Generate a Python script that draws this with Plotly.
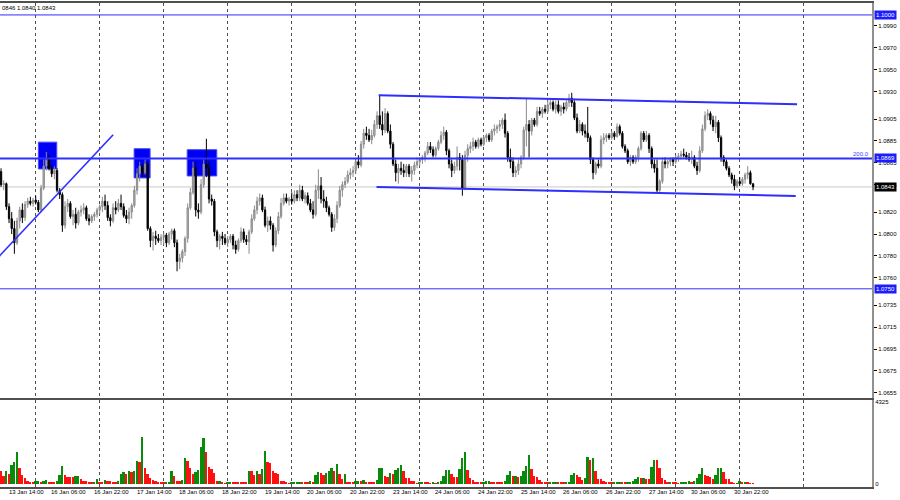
import plotly.graph_objects as go

# ---------------- data (H1 bars, bar 0 = 13 Jan 14:00) ----------------
bar_index = list(range(-1, 282))

open_ = [
    1.0857, 1.0845, 1.0846, 1.0825, 1.0814, 1.0805, 1.0792, 1.0812, 1.0822, 1.0815,
    1.0827, 1.0830, 1.0828, 1.0831, 1.0829, 1.0822, 1.0842, 1.0862, 1.0868, 1.0860,
    1.0855, 1.0858, 1.0840, 1.0836, 1.0808, 1.0825, 1.0828, 1.0816, 1.0818, 1.0810,
    1.0820, 1.0822, 1.0824, 1.0814, 1.0812, 1.0816, 1.0818, 1.0822, 1.0825, 1.0830,
    1.0826, 1.0815, 1.0812, 1.0824, 1.0822, 1.0828, 1.0825, 1.0817, 1.0814, 1.0820,
    1.0826, 1.0840, 1.0855, 1.0862, 1.0856, 1.0864, 1.0805, 1.0794, 1.0798, 1.0796,
    1.0794, 1.0797, 1.0799, 1.0792, 1.0800, 1.0803, 1.0792, 1.0775, 1.0778, 1.0784,
    1.0796, 1.0824, 1.0838, 1.0860, 1.0822, 1.0820, 1.0845, 1.0864, 1.0860, 1.0832,
    1.0830, 1.0802, 1.0794, 1.0798, 1.0796, 1.0792, 1.0795, 1.0798, 1.0790, 1.0786,
    1.0794, 1.0802, 1.0795, 1.0793, 1.0802, 1.0814, 1.0822, 1.0830, 1.0833, 1.0822,
    1.0808, 1.0812, 1.0808, 1.0790, 1.0803, 1.0816, 1.0828, 1.0833, 1.0830, 1.0832,
    1.0830, 1.0836, 1.0833, 1.0840, 1.0832, 1.0835, 1.0828, 1.0822, 1.0818, 1.0840,
    1.0844, 1.0832, 1.0830, 1.0824, 1.0818, 1.0806, 1.0814, 1.0826, 1.0840, 1.0845,
    1.0848, 1.0854, 1.0856, 1.0858, 1.0866, 1.0863, 1.0882, 1.0892, 1.0890, 1.0886,
    1.0890, 1.0900, 1.0908, 1.0900, 1.0895, 1.0910, 1.0894, 1.0882, 1.0864, 1.0856,
    1.0860, 1.0858, 1.0856, 1.0862, 1.0855, 1.0858, 1.0863, 1.0866, 1.0868, 1.0870,
    1.0874, 1.0880, 1.0877, 1.0872, 1.0878, 1.0884, 1.0890, 1.0893, 1.0876, 1.0864,
    1.0858, 1.0862, 1.0870, 1.0868, 1.0842, 1.0872, 1.0878, 1.0880, 1.0884, 1.0880,
    1.0886, 1.0882, 1.0888, 1.0890, 1.0886, 1.0894, 1.0896, 1.0898, 1.0900, 1.0904,
    1.0892, 1.0870, 1.0866, 1.0856, 1.0858, 1.0864, 1.0870, 1.0895, 1.0900, 1.0894,
    1.0904, 1.0900, 1.0912, 1.0910, 1.0914, 1.0912, 1.0918, 1.0920, 1.0914, 1.0918,
    1.0912, 1.0916, 1.0914, 1.0920, 1.0924, 1.0920, 1.0906, 1.0894, 1.0900, 1.0894,
    1.0892, 1.0888, 1.0868, 1.0856, 1.0864, 1.0862, 1.0886, 1.0888, 1.0890, 1.0888,
    1.0892, 1.0889, 1.0898, 1.0892, 1.0880, 1.0876, 1.0866, 1.0870, 1.0866, 1.0870,
    1.0878, 1.0892, 1.0886, 1.0890, 1.0878, 1.0864, 1.0860, 1.0840, 1.0848, 1.0866,
    1.0864, 1.0866, 1.0868, 1.0866, 1.0870, 1.0871, 1.0873, 1.0872, 1.0870, 1.0868,
    1.0870, 1.0862, 1.0858, 1.0876, 1.0896, 1.0908, 1.0910, 1.0904, 1.0898, 1.0902,
    1.0888, 1.0870, 1.0866, 1.0860, 1.0854, 1.0850, 1.0844, 1.0848, 1.0846, 1.0850,
    1.0854, 1.0856, 1.0846,
]

high = [
    1.0860, 1.0849, 1.0847, 1.0828, 1.0820, 1.0812, 1.0815, 1.0825, 1.0828, 1.0830,
    1.0833, 1.0834, 1.0833, 1.0835, 1.0831, 1.0845, 1.0868, 1.0875, 1.0872, 1.0863,
    1.0862, 1.0860, 1.0842, 1.0838, 1.0830, 1.0832, 1.0830, 1.0822, 1.0824, 1.0822,
    1.0826, 1.0828, 1.0826, 1.0818, 1.0818, 1.0820, 1.0824, 1.0827, 1.0834, 1.0836,
    1.0830, 1.0818, 1.0828, 1.0830, 1.0832, 1.0836, 1.0828, 1.0822, 1.0824, 1.0828,
    1.0844, 1.0860, 1.0866, 1.0864, 1.0868, 1.0866, 1.0807, 1.0802, 1.0803, 1.0800,
    1.0800, 1.0802, 1.0801, 1.0802, 1.0805, 1.0805, 1.0795, 1.0782, 1.0786, 1.0798,
    1.0828, 1.0842, 1.0866, 1.0866, 1.0828, 1.0850, 1.0868, 1.0887, 1.0866, 1.0836,
    1.0832, 1.0804, 1.0800, 1.0802, 1.0800, 1.0798, 1.0800, 1.0800, 1.0794, 1.0796,
    1.0806, 1.0805, 1.0799, 1.0804, 1.0818, 1.0826, 1.0834, 1.0837, 1.0836, 1.0825,
    1.0816, 1.0816, 1.0810, 1.0806, 1.0820, 1.0833, 1.0837, 1.0837, 1.0834, 1.0838,
    1.0840, 1.0840, 1.0845, 1.0844, 1.0838, 1.0838, 1.0832, 1.0830, 1.0845, 1.0859,
    1.0852, 1.0840, 1.0834, 1.0826, 1.0820, 1.0818, 1.0830, 1.0844, 1.0848, 1.0852,
    1.0858, 1.0860, 1.0862, 1.0868, 1.0872, 1.0885, 1.0896, 1.0898, 1.0896, 1.0895,
    1.0904, 1.0912, 1.0927, 1.0912, 1.0915, 1.0912, 1.0900, 1.0884, 1.0868, 1.0864,
    1.0866, 1.0864, 1.0864, 1.0864, 1.0862, 1.0866, 1.0870, 1.0870, 1.0872, 1.0876,
    1.0884, 1.0884, 1.0880, 1.0880, 1.0886, 1.0894, 1.0898, 1.0895, 1.0878, 1.0868,
    1.0866, 1.0880, 1.0874, 1.0872, 1.0876, 1.0882, 1.0884, 1.0888, 1.0886, 1.0888,
    1.0888, 1.0890, 1.0892, 1.0892, 1.0896, 1.0900, 1.0900, 1.0904, 1.0906, 1.0910,
    1.0894, 1.0878, 1.0870, 1.0862, 1.0868, 1.0872, 1.0898, 1.0924, 1.0904, 1.0906,
    1.0906, 1.0916, 1.0916, 1.0916, 1.0918, 1.0922, 1.0924, 1.0922, 1.0922, 1.0922,
    1.0918, 1.0920, 1.0922, 1.0928, 1.0929, 1.0922, 1.0910, 1.0904, 1.0902, 1.0900,
    1.0916, 1.0890, 1.0870, 1.0866, 1.0868, 1.0890, 1.0892, 1.0892, 1.0892, 1.0894,
    1.0894, 1.0901, 1.0900, 1.0894, 1.0882, 1.0878, 1.0872, 1.0872, 1.0872, 1.0880,
    1.0894, 1.0894, 1.0894, 1.0892, 1.0880, 1.0868, 1.0868, 1.0850, 1.0870, 1.0870,
    1.0868, 1.0870, 1.0870, 1.0872, 1.0874, 1.0876, 1.0878, 1.0875, 1.0874, 1.0876,
    1.0872, 1.0866, 1.0880, 1.0900, 1.0912, 1.0914, 1.0912, 1.0908, 1.0908, 1.0904,
    1.0890, 1.0872, 1.0868, 1.0862, 1.0856, 1.0854, 1.0850, 1.0852, 1.0852, 1.0856,
    1.0862, 1.0858, 1.0846,
]

low = [
    1.0843, 1.0840, 1.0822, 1.0810, 1.0800, 1.0782, 1.0790, 1.0805, 1.0810, 1.0812,
    1.0824, 1.0826, 1.0825, 1.0827, 1.0820, 1.0820, 1.0840, 1.0858, 1.0858, 1.0852,
    1.0850, 1.0838, 1.0832, 1.0802, 1.0805, 1.0820, 1.0814, 1.0808, 1.0805, 1.0808,
    1.0816, 1.0818, 1.0812, 1.0808, 1.0810, 1.0812, 1.0815, 1.0818, 1.0820, 1.0822,
    1.0812, 1.0807, 1.0810, 1.0818, 1.0820, 1.0822, 1.0815, 1.0810, 1.0809, 1.0814,
    1.0824, 1.0836, 1.0848, 1.0852, 1.0854, 1.0803, 1.0788, 1.0785, 1.0790, 1.0792,
    1.0790, 1.0790, 1.0788, 1.0790, 1.0795, 1.0788, 1.0766, 1.0768, 1.0774, 1.0780,
    1.0792, 1.0822, 1.0836, 1.0816, 1.0814, 1.0818, 1.0842, 1.0852, 1.0828, 1.0826,
    1.0798, 1.0788, 1.0786, 1.0790, 1.0790, 1.0788, 1.0792, 1.0786, 1.0782, 1.0784,
    1.0792, 1.0792, 1.0790, 1.0782, 1.0800, 1.0812, 1.0818, 1.0826, 1.0820, 1.0806,
    1.0802, 1.0804, 1.0784, 1.0788, 1.0800, 1.0814, 1.0826, 1.0828, 1.0826, 1.0827,
    1.0828, 1.0830, 1.0830, 1.0830, 1.0828, 1.0826, 1.0820, 1.0814, 1.0816, 1.0832,
    1.0828, 1.0824, 1.0820, 1.0816, 1.0802, 1.0803, 1.0810, 1.0824, 1.0834, 1.0842,
    1.0846, 1.0850, 1.0852, 1.0855, 1.0860, 1.0861, 1.0878, 1.0886, 1.0884, 1.0882,
    1.0888, 1.0896, 1.0896, 1.0890, 1.0892, 1.0892, 1.0878, 1.0862, 1.0848, 1.0846,
    1.0854, 1.0852, 1.0852, 1.0852, 1.0848, 1.0854, 1.0860, 1.0862, 1.0864, 1.0866,
    1.0872, 1.0874, 1.0870, 1.0870, 1.0876, 1.0882, 1.0886, 1.0872, 1.0860, 1.0852,
    1.0855, 1.0858, 1.0858, 1.0835, 1.0840, 1.0866, 1.0874, 1.0876, 1.0878, 1.0878,
    1.0880, 1.0880, 1.0884, 1.0884, 1.0884, 1.0890, 1.0892, 1.0894, 1.0896, 1.0888,
    1.0866, 1.0860, 1.0852, 1.0852, 1.0854, 1.0860, 1.0868, 1.0880, 1.0870, 1.0890,
    1.0898, 1.0898, 1.0908, 1.0906, 1.0910, 1.0910, 1.0914, 1.0912, 1.0910, 1.0910,
    1.0908, 1.0910, 1.0912, 1.0916, 1.0916, 1.0904, 1.0892, 1.0892, 1.0890, 1.0888,
    1.0884, 1.0864, 1.0850, 1.0854, 1.0860, 1.0860, 1.0882, 1.0884, 1.0886, 1.0886,
    1.0886, 1.0888, 1.0890, 1.0878, 1.0874, 1.0864, 1.0862, 1.0864, 1.0864, 1.0866,
    1.0876, 1.0884, 1.0884, 1.0874, 1.0860, 1.0856, 1.0838, 1.0838, 1.0846, 1.0860,
    1.0860, 1.0862, 1.0862, 1.0864, 1.0866, 1.0868, 1.0870, 1.0868, 1.0866, 1.0864,
    1.0860, 1.0854, 1.0856, 1.0874, 1.0894, 1.0904, 1.0900, 1.0894, 1.0892, 1.0884,
    1.0866, 1.0862, 1.0858, 1.0852, 1.0846, 1.0840, 1.0842, 1.0844, 1.0844, 1.0846,
    1.0850, 1.0845, 1.0840,
]

close = [
    1.0845, 1.0846, 1.0825, 1.0814, 1.0805, 1.0792, 1.0812, 1.0822, 1.0815, 1.0827,
    1.0830, 1.0828, 1.0831, 1.0829, 1.0822, 1.0842, 1.0862, 1.0868, 1.0860, 1.0855,
    1.0858, 1.0840, 1.0836, 1.0808, 1.0825, 1.0828, 1.0816, 1.0818, 1.0810, 1.0820,
    1.0822, 1.0824, 1.0814, 1.0812, 1.0816, 1.0818, 1.0822, 1.0825, 1.0830, 1.0826,
    1.0815, 1.0812, 1.0824, 1.0822, 1.0828, 1.0825, 1.0817, 1.0814, 1.0820, 1.0826,
    1.0840, 1.0855, 1.0862, 1.0856, 1.0864, 1.0805, 1.0794, 1.0798, 1.0796, 1.0794,
    1.0797, 1.0799, 1.0792, 1.0800, 1.0803, 1.0792, 1.0775, 1.0778, 1.0784, 1.0796,
    1.0824, 1.0838, 1.0860, 1.0822, 1.0820, 1.0845, 1.0864, 1.0860, 1.0832, 1.0830,
    1.0802, 1.0794, 1.0798, 1.0796, 1.0792, 1.0795, 1.0798, 1.0790, 1.0786, 1.0794,
    1.0802, 1.0795, 1.0793, 1.0802, 1.0814, 1.0822, 1.0830, 1.0833, 1.0822, 1.0808,
    1.0812, 1.0808, 1.0790, 1.0803, 1.0816, 1.0828, 1.0833, 1.0830, 1.0832, 1.0830,
    1.0836, 1.0833, 1.0840, 1.0832, 1.0835, 1.0828, 1.0822, 1.0818, 1.0840, 1.0844,
    1.0832, 1.0830, 1.0824, 1.0818, 1.0806, 1.0814, 1.0826, 1.0840, 1.0845, 1.0848,
    1.0854, 1.0856, 1.0858, 1.0866, 1.0863, 1.0882, 1.0892, 1.0890, 1.0886, 1.0890,
    1.0900, 1.0908, 1.0900, 1.0895, 1.0910, 1.0894, 1.0882, 1.0864, 1.0856, 1.0860,
    1.0858, 1.0856, 1.0862, 1.0855, 1.0858, 1.0863, 1.0866, 1.0868, 1.0870, 1.0874,
    1.0880, 1.0877, 1.0872, 1.0878, 1.0884, 1.0890, 1.0893, 1.0876, 1.0864, 1.0858,
    1.0862, 1.0870, 1.0868, 1.0842, 1.0872, 1.0878, 1.0880, 1.0884, 1.0880, 1.0886,
    1.0882, 1.0888, 1.0890, 1.0886, 1.0894, 1.0896, 1.0898, 1.0900, 1.0904, 1.0892,
    1.0870, 1.0866, 1.0856, 1.0858, 1.0864, 1.0870, 1.0895, 1.0900, 1.0894, 1.0904,
    1.0900, 1.0912, 1.0910, 1.0914, 1.0912, 1.0918, 1.0920, 1.0914, 1.0918, 1.0912,
    1.0916, 1.0914, 1.0920, 1.0924, 1.0920, 1.0906, 1.0894, 1.0900, 1.0894, 1.0892,
    1.0888, 1.0868, 1.0856, 1.0864, 1.0862, 1.0886, 1.0888, 1.0890, 1.0888, 1.0892,
    1.0889, 1.0898, 1.0892, 1.0880, 1.0876, 1.0866, 1.0870, 1.0866, 1.0870, 1.0878,
    1.0892, 1.0886, 1.0890, 1.0878, 1.0864, 1.0860, 1.0840, 1.0848, 1.0866, 1.0864,
    1.0866, 1.0868, 1.0866, 1.0870, 1.0871, 1.0873, 1.0872, 1.0870, 1.0868, 1.0870,
    1.0862, 1.0858, 1.0876, 1.0896, 1.0908, 1.0910, 1.0904, 1.0898, 1.0902, 1.0888,
    1.0870, 1.0866, 1.0860, 1.0854, 1.0850, 1.0844, 1.0848, 1.0846, 1.0850, 1.0854,
    1.0856, 1.0846, 1.0843,
]

volume = [
    657, 433, 657, 536, 1003, 1142, 1695, 830, 484, 311,
    138, 87, 52, 138, 173, 87, 173, 190, 52, 52,
    52, 138, 484, 917, 484, 363, 350, 346, 398, 433,
    260, 173, 138, 87, 52, 87, 277, 87, 87, 190,
    173, 138, 87, 87, 138, 536, 605, 519, 657, 640,
    657, 1211, 1125, 2440, 830, 536, 311, 190, 138, 52,
    52, 52, 87, 104, 657, 398, 138, 130, 225, 1349,
    1176, 830, 536, 605, 744, 1955, 2387, 1695, 865, 778,
    571, 138, 173, 52, 40, 87, 104, 104, 87, 87,
    87, 87, 87, 692, 692, 484, 692, 536, 778, 1730,
    1125, 1090, 657, 571, 536, 138, 130, 52, 40, 52,
    87, 95, 104, 87, 80, 75, 173, 87, 484, 605,
    590, 484, 571, 692, 830, 657, 1038, 519, 277, 536,
    87, 80, 52, 138, 145, 130, 225, 87, 80, 80,
    75, 225, 830, 850, 398, 346, 571, 536, 744, 830,
    1003, 657, 311, 300, 138, 130, 17, 52, 60, 55,
    52, 17, 52, 50, 87, 138, 398, 709, 744, 536,
    363, 350, 778, 1349, 1695, 709, 311, 225, 87, 80,
    75, 87, 138, 140, 87, 87, 87, 87, 87, 138,
    484, 692, 433, 440, 363, 398, 692, 917, 1522, 796,
    398, 346, 190, 87, 52, 52, 87, 121, 125, 87,
    80, 52, 60, 87, 484, 571, 484, 346, 225, 311,
    1400, 1263, 1349, 657, 260, 255, 138, 87, 52, 52,
    87, 90, 95, 87, 80, 87, 90, 138, 277, 363,
    294, 300, 260, 255, 900, 1263, 1250, 830, 311, 225,
    121, 125, 87, 52, 50, 87, 90, 95, 173, 104,
    138, 311, 536, 830, 484, 398, 346, 277, 484, 830,
    840, 605, 277, 270, 87, 17, 40, 138, 52, 104,
    52, 50, 45,
]

time_label_bars = [0, 16, 32, 48, 64, 80, 96, 112, 128, 144, 160, 176, 192, 208, 224, 240, 256, 272]
time_labels = ["13 Jan 14:00", "16 Jan 06:00", "16 Jan 22:00", "17 Jan 14:00", "18 Jan 06:00",
               "18 Jan 22:00", "19 Jan 14:00", "20 Jan 06:00", "20 Jan 22:00", "23 Jan 14:00",
               "24 Jan 06:00", "24 Jan 22:00", "25 Jan 14:00", "26 Jan 06:00", "26 Jan 22:00",
               "27 Jan 14:00", "30 Jan 06:00", "30 Jan 22:00"]
grid_bars = [12, 36, 60, 84, 108, 132, 156, 180, 204, 228, 252, 276, 300]

price_ticks = [1.0990, 1.0970, 1.0950, 1.0930, 1.0905, 1.0885, 1.0865, 1.0845, 1.0820,
               1.0800, 1.0780, 1.0760, 1.0735, 1.0715, 1.0695, 1.0675, 1.0655]
volume_ticks = [0, 4325]

# drawing objects
levels = [1.1000, 1.0869, 1.0750]
level_widths = [1, 2, 1]
last_price = 1.0843
channel_upper_x = [140.6, 297.5]
channel_upper_y = [1.09266, 1.09185]
channel_lower_x = [139.8, 297.0]
channel_lower_y = [1.08430, 1.08348]
trend_x = [-5.0, 41.05]
trend_y = [1.07712, 1.08906]
rect_x0 = [13.0, 48.9, 68.8]
rect_x1 = [19.9, 54.9, 79.9]
rect_y0 = [1.08594, 1.08512, 1.08530]
rect_y1 = [1.08839, 1.08779, 1.08770]

# ---------------- figure ----------------
BLUE = "#2e2eff"
FONT = "Liberation Sans, Arial, sans-serif"
H_PLOT = 487.0  # px of paper (t=0, b=13)

vol_colors = ["#ff1010"]
for k in range(1, len(volume)):
    vol_colors.append("#0a8a0a" if volume[k] > volume[k - 1] else "#ff1010")

fig = go.Figure()

fig.add_trace(go.Candlestick(
    x=bar_index, open=open_, high=high, low=low, close=close,
    increasing=dict(line=dict(color="#8a8a8a", width=1), fillcolor="#b4b4b4"),
    decreasing=dict(line=dict(color="#000000", width=1), fillcolor="#000000"),
    whiskerwidth=0, xaxis="x", yaxis="y", showlegend=False, hoverinfo="skip",
))

fig.add_trace(go.Scatter(x=channel_upper_x, y=channel_upper_y, mode="lines",
                         line=dict(color=BLUE, width=2), xaxis="x", yaxis="y",
                         showlegend=False, hoverinfo="skip"))
fig.add_trace(go.Scatter(x=channel_lower_x, y=channel_lower_y, mode="lines",
                         line=dict(color=BLUE, width=2), xaxis="x", yaxis="y",
                         showlegend=False, hoverinfo="skip"))
fig.add_trace(go.Scatter(x=trend_x, y=trend_y, mode="lines",
                         line=dict(color=BLUE, width=1.6), xaxis="x", yaxis="y",
                         showlegend=False, hoverinfo="skip"))

fig.add_trace(go.Bar(x=bar_index, y=volume, marker=dict(color=vol_colors, line=dict(width=0)),
                     width=0.62, xaxis="x2", yaxis="y2", showlegend=False, hoverinfo="skip"))

shapes = []
for x0, x1, y0, y1 in zip(rect_x0, rect_x1, rect_y0, rect_y1):
    shapes.append(dict(type="rect", xref="x", yref="y", x0=x0, x1=x1, y0=y0, y1=y1,
                       fillcolor="#0000f4", line=dict(color="#4848ff", width=1), layer="between"))
shapes.append(dict(type="line", xref="paper", yref="y", x0=0, x1=1, y0=last_price, y1=last_price,
                   line=dict(color="#c8c8c8", width=1), layer="between"))
for lv, w in zip(levels, level_widths):
    shapes.append(dict(type="line", xref="paper", yref="y", x0=0, x1=1, y0=lv, y1=lv,
                       line=dict(color=BLUE, width=w), layer="above"))

annotations = []
for b, t in zip(time_label_bars, time_labels):
    annotations.append(dict(x=b, y=(H_PLOT - 492) / H_PLOT, xref="x2", yref="paper", text=t,
                            showarrow=False, xanchor="left", yanchor="middle", xshift=3,
                            font=dict(family=FONT, size=6, color="#000000")))
for lv, bg in [(1.1000, "#1c1cff"), (1.0869, "#1c1cff"), (1.0750, "#1c1cff"), (last_price, "#000000")]:
    annotations.append(dict(x=1, y=lv, xref="paper", yref="y", text=f"{lv:.4f}", showarrow=False,
                            xanchor="left", yanchor="middle", xshift=2, bgcolor=bg, borderpad=1,
                            font=dict(family=FONT, size=6, color="#ffffff")))
annotations.append(dict(x=1, y=1.0869, xref="paper", yref="y", text="200.0", showarrow=False,
                        xanchor="right", yanchor="bottom", xshift=-1, yshift=-1,
                        font=dict(family=FONT, size=6, color="#4444ff")))
annotations.append(dict(x=0, y=(H_PLOT - 6) / H_PLOT, xref="paper", yref="paper",
                        text="0846 1.0840 1.0843", showarrow=False, xanchor="left", yanchor="middle",
                        font=dict(family=FONT, size=6, color="#000000")))

x_range = [-1.39, 325.6]
fig.update_layout(
    width=900, height=500,
    margin=dict(l=0, r=28, t=0, b=13),
    paper_bgcolor="#ffffff", plot_bgcolor="#ffffff",
    showlegend=False, bargap=0,
    shapes=shapes, annotations=annotations,
    xaxis=dict(domain=[0, 1], range=x_range, anchor="y", showticklabels=False, ticks="",
               showgrid=False, zeroline=False, rangeslider=dict(visible=False),
               showline=True, linecolor="#505050", linewidth=2, mirror=True,
               minor=dict(tickvals=grid_bars, showgrid=True, griddash="dot",
                          gridcolor="#505050", gridwidth=1, ticks="")),
    yaxis=dict(domain=[(H_PLOT - 398) / H_PLOT, (H_PLOT - 1) / H_PLOT], range=[1.0650, 1.10109],
               side="right", anchor="x", tickvals=price_ticks,
               ticktext=[f"{v:.4f}" for v in price_ticks],
               tickfont=dict(family=FONT, size=6, color="#000000"),
               ticks="outside", ticklen=3, tickcolor="#000000", showgrid=False, zeroline=False,
               showline=True, linecolor="#909090", linewidth=2),
    xaxis2=dict(domain=[0, 1], range=x_range, anchor="y2", matches="x", showticklabels=False,
                ticks="", showgrid=False, zeroline=False,
                showline=True, linecolor="#505050", linewidth=2,
                minor=dict(tickvals=grid_bars, showgrid=True, griddash="dot",
                           gridcolor="#505050", gridwidth=1, ticks="")),
    yaxis2=dict(domain=[0, (H_PLOT - 400) / H_PLOT], range=[-140, 4384], side="right", anchor="x2",
                tickvals=volume_ticks, ticktext=["0", "4325"],
                tickfont=dict(family=FONT, size=6, color="#000000"),
                ticks="", showgrid=False, zeroline=False,
                showline=True, linecolor="#909090", linewidth=2),
)

fig.write_html("out.html", config={"displayModeBar": False},
               post_script="document.body.style.margin='0px';")
